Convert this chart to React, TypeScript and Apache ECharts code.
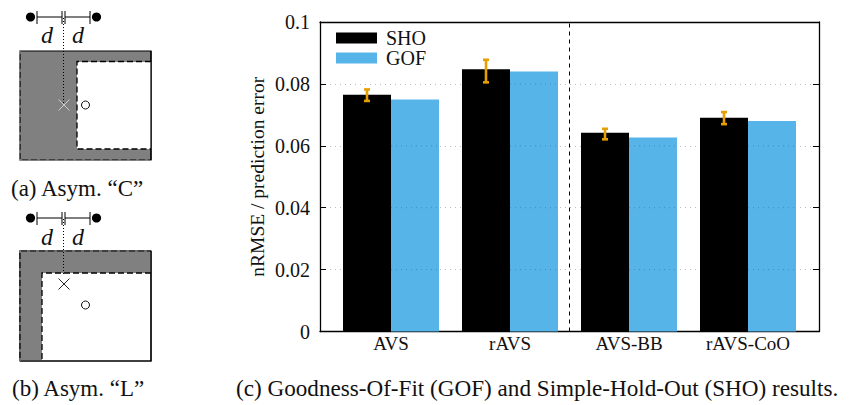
import React, { useEffect, useRef } from "react";
import * as echarts from "echarts";

const categories = ["AVS", "rAVS", "AVS-BB", "rAVS-CoO"];
const shoValues = [0.0765, 0.0847, 0.0642, 0.0691];
const gofValues = [0.075, 0.084, 0.0627, 0.068];
const errLow = [0.0745, 0.0805, 0.0621, 0.067];
const errHigh = [0.0782, 0.0878, 0.0655, 0.0709];
const yMax = 0.1;
const yStep = 0.02;
const gridValues = [0.02, 0.04, 0.06, 0.08];
const separatorAt = 1.5;

const FONT = "Liberation Serif";
const BAR_W = 48;
const GRID_TOP = 22;
const GRID_H = 309.5;
const BLUE = "#56B4E9";
const ORANGE = "#E69F00";

const poly = (points: number[][], style: any, z = 1) => ({
  type: "polyline",
  z,
  shape: { points },
  style: { fill: "none", stroke: "#000", lineWidth: 1.2, ...style },
});

const label = (text: string, x: number, y: number, font: string, align = "left") => ({
  type: "text",
  x,
  y,
  style: { text, font, fill: "#111", align, verticalAlign: "middle" },
});

const dimension = (y: number, textY: number) => [
  { type: "circle", shape: { cx: 30.5, cy: y, r: 4.6 }, style: { fill: "#000" } },
  { type: "circle", shape: { cx: 96.5, cy: y, r: 4.6 }, style: { fill: "#000" } },
  poly([[37, y], [62, y]], { lineWidth: 1 }),
  poly([[65, y], [90, y]], { lineWidth: 1 }),
  poly([[37, y - 6], [37, y + 7]], { lineWidth: 1 }),
  poly([[62, y - 6], [62, y + 7]], { lineWidth: 1 }),
  poly([[65, y - 6], [65, y + 7]], { lineWidth: 1 }),
  poly([[90, y - 6], [90, y + 7]], { lineWidth: 1 }),
  label("d", 47, textY, `italic 24px "${FONT}"`, "center"),
  label("d", 78, textY, `italic 24px "${FONT}"`, "center"),
];

const cross = (cx: number, cy: number, color: string) => [
  poly([[cx - 5.5, cy - 5.5], [cx + 5.5, cy + 5.5]], { stroke: color, lineWidth: 1 }, 3),
  poly([[cx - 5.5, cy + 5.5], [cx + 5.5, cy - 5.5]], { stroke: color, lineWidth: 1 }, 3),
];

const ring = (cx: number, cy: number) => ({
  type: "circle",
  z: 3,
  shape: { cx, cy, r: 4 },
  style: { fill: "none", stroke: "#111", lineWidth: 1 },
});

const dash = { lineDash: [6, 3] };
const gapDash = { stroke: "#999", lineDash: [3, 6] };

const panelA = [
  ...dimension(17, 35),
  { type: "rect", shape: { x: 20, y: 51, width: 131, height: 109 }, style: { fill: "#808080", stroke: "#000", lineWidth: 1.2 } },
  { type: "rect", z: 1, shape: { x: 77, y: 62, width: 74, height: 87 }, style: { fill: "#fff" } },
  poly([[151, 51], [151, 160]], {}, 2),
  poly([[151, 61.5], [77, 61.5], [77, 149], [151, 149]], { lineWidth: 1.3, ...dash }, 2),
  poly([[20, 51], [20, 160], [151, 160]], { lineWidth: 1.2, ...gapDash }, 2),
  poly([[63.5, 18], [63.5, 104]], { lineDash: [1, 2], lineWidth: 1 }, 2),
  ...cross(64, 105, "#ccc"),
  ring(85.5, 105),
  label("(a) Asym. \u201CC\u201D", 11, 188, `23px "${FONT}"`),
];

const panelB = [
  ...dimension(218, 237),
  { type: "rect", shape: { x: 20, y: 251, width: 131, height: 110 }, style: { fill: "#fff", stroke: "#000", lineWidth: 1.2 } },
  { type: "polygon", z: 1, shape: { points: [[20, 251], [151, 251], [151, 273], [42, 273], [42, 361], [20, 361]] }, style: { fill: "#808080" } },
  poly([[151, 251], [151, 361], [20, 361]], {}, 2),
  poly([[20, 361], [20, 251], [151, 251]], { lineWidth: 1.2 }, 2),
  poly([[20, 361], [20, 251], [151, 251]], { lineWidth: 1.2, ...gapDash }, 2),
  poly([[151, 273], [42, 273], [42, 361]], { lineWidth: 1.3, ...dash }, 2),
  poly([[63.5, 219], [63.5, 276]], { lineDash: [1, 2], lineWidth: 1 }, 2),
  ...cross(64, 284, "#222"),
  ring(85.5, 305),
  label("(b) Asym. \u201CL\u201D", 12, 388, `23px "${FONT}"`),
];

const caption = label(
  "(c) Goodness-Of-Fit (GOF) and Simple-Hold-Out (SHO) results.",
  236,
  388,
  `23.15px "${FONT}"`
);

const option: any = {
  animation: false,
  backgroundColor: "#fff",
  textStyle: { fontFamily: FONT },
  grid: [
    { left: 320, top: GRID_TOP, width: 499, height: GRID_H },
    { left: 331.5, top: GRID_TOP, width: 476, height: GRID_H },
  ],
  legend: {
    orient: "vertical",
    left: 331,
    top: 23,
    itemWidth: 41,
    itemHeight: 11,
    itemGap: 0,
    icon: "rect",
    data: ["SHO", "GOF"],
    textStyle: { fontFamily: FONT, fontSize: 20, color: "#111", padding: [0, 0, 2, 4] },
  },
  xAxis: [
    {
      type: "value", gridIndex: 0, min: -0.6, max: 3.6, position: "bottom",
      axisLine: { show: true, onZero: false, lineStyle: { color: "#000", width: 1.3 } },
      axisTick: { show: false }, axisLabel: { show: false }, splitLine: { show: false },
    },
    {
      type: "value", gridIndex: 0, min: -0.6, max: 3.6, position: "top",
      axisLine: { show: true, onZero: false, lineStyle: { color: "#000", width: 1.3 } },
      axisTick: { show: false }, axisLabel: { show: false }, splitLine: { show: false },
    },
    {
      type: "category", gridIndex: 1, data: categories, position: "bottom",
      axisLine: { show: false }, axisTick: { show: false },
      axisLabel: { color: "#111", fontFamily: FONT, fontSize: 19, margin: 2 },
    },
  ],
  yAxis: [
    {
      type: "value", gridIndex: 0, min: 0, max: yMax, interval: yStep, position: "left",
      name: "nRMSE / prediction error", nameLocation: "middle", nameGap: 53,
      nameMoveOverlap: false,
      nameTextStyle: { color: "#111", fontFamily: FONT, fontSize: 19.5 },
      axisLine: { show: true, onZero: false, lineStyle: { color: "#000", width: 1.3 } },
      axisTick: { show: true, inside: true, length: 6, lineStyle: { color: "#000" } },
      axisLabel: { color: "#111", fontFamily: FONT, fontSize: 20, margin: 10, padding: [0, 0, 4, 0] },
      splitLine: { show: true, lineStyle: { color: "#bbb", type: [1, 4], width: 1 } },
    },
    {
      type: "value", gridIndex: 0, min: 0, max: yMax, interval: yStep, position: "right",
      axisLine: { show: true, onZero: false, lineStyle: { color: "#000", width: 1.3 } },
      axisTick: { show: true, inside: true, length: 6, lineStyle: { color: "#000" } },
      axisLabel: { show: false }, splitLine: { show: false },
    },
    {
      type: "value", gridIndex: 1, min: 0, max: yMax, interval: yStep, show: false,
    },
  ],
  series: [
    {
      name: "separator", type: "line", xAxisIndex: 0, yAxisIndex: 0, symbol: "none",
      data: [[separatorAt, 0], [separatorAt, yMax]],
      lineStyle: { color: "#000", width: 1, type: [4, 4] }, z: 4, silent: true,
    },
    {
      name: "SHO", type: "bar", xAxisIndex: 2, yAxisIndex: 2, data: shoValues,
      barWidth: BAR_W, barGap: "0%", itemStyle: { color: "#000" }, z: 3,
    },
    {
      name: "GOF", type: "bar", xAxisIndex: 2, yAxisIndex: 2, data: gofValues,
      barWidth: BAR_W, barGap: "0%", itemStyle: { color: BLUE }, z: 3,
    },
    {
      name: "gridOverBars", type: "custom", xAxisIndex: 2, yAxisIndex: 2, z: 4, silent: true,
      data: categories.map((_, i) => [i, gofValues[i]]),
      encode: { x: 0, y: 1 },
      renderItem: (_: any, api: any) => {
        const cat = api.value(0);
        const top = api.value(1);
        return {
          type: "group",
          children: gridValues.filter((v) => v < top).map((v) => {
            const p = api.coord([cat, v]);
            return {
              type: "line",
              shape: { x1: p[0], y1: p[1], x2: p[0] + BAR_W, y2: p[1] },
              style: { stroke: "rgba(0,0,0,0.22)", lineWidth: 1, lineDash: [1, 4] },
            };
          }),
        };
      },
    },
    {
      name: "error", type: "custom", xAxisIndex: 2, yAxisIndex: 2, z: 5,
      data: categories.map((_, i) => [i, errLow[i], errHigh[i]]),
      encode: { x: 0, y: [1, 2] },
      renderItem: (_: any, api: any) => {
        const lo = api.coord([api.value(0), api.value(1)]);
        const hi = api.coord([api.value(0), api.value(2)]);
        const x = lo[0] - BAR_W / 2;
        const style = { stroke: ORANGE, lineWidth: 2.6, fill: "none" };
        const seg = (x1: number, y1: number, x2: number, y2: number) => ({
          type: "line", shape: { x1, y1, x2, y2 }, style,
        });
        return {
          type: "group",
          children: [
            seg(x, lo[1], x, hi[1]),
            seg(x - 3, lo[1], x + 3, lo[1]),
            seg(x - 3, hi[1], x + 3, hi[1]),
          ],
        };
      },
    },
  ],
  graphic: { elements: [...panelA, ...panelB, caption] },
};

export default function App() {
  const ref = useRef<HTMLDivElement>(null);
  useEffect(() => {
    const chart = echarts.init(ref.current!, undefined, { renderer: "svg" });
    chart.setOption(option);
    return () => chart.dispose();
  }, []);
  return <div ref={ref} style={{ position: "absolute", left: 0, top: 0, width: 851, height: 405 }} />;
}
